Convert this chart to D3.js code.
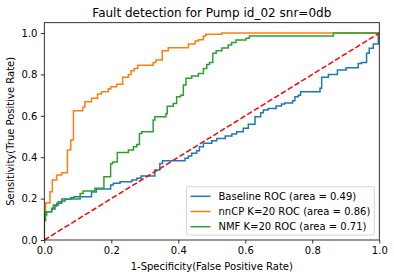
<!DOCTYPE html>
<html>
<head>
<meta charset="utf-8">
<script src="https://cdn.jsdelivr.net/npm/d3@7"></script>
<style>
  html, body { margin: 0; padding: 0; background: #fff; }
  svg { display: block; font-family: "DejaVu Sans", sans-serif; }
</style>
</head>
<body>
<svg id="chart"></svg>
<script>
// ROC curves: x where the step happens, tpr level after it
const baselineFpr = [0, 0, 0.007, 0.022, 0.032, 0.037, 0.052, 0.062, 0.079, 0.089, 0.141, 0.155, 0.198, 0.206, 0.226, 0.261, 0.276, 0.289, 0.33, 0.345, 0.353, 0.42, 0.43, 0.44, 0.455, 0.463, 0.475, 0.5, 0.515, 0.54, 0.56, 0.574, 0.594, 0.609, 0.629, 0.646, 0.654, 0.668, 0.692, 0.708, 0.718, 0.741, 0.748, 0.758, 0.765, 0.823, 0.828, 0.848, 0.875, 0.901, 0.937, 0.947, 0.962, 0.97, 0.982, 0.997, 1]
const baselineTpr = [0, 0.121, 0.137, 0.15, 0.164, 0.177, 0.188, 0.197, 0.204, 0.209, 0.232, 0.247, 0.266, 0.274, 0.282, 0.29, 0.298, 0.309, 0.338, 0.37, 0.383, 0.395, 0.406, 0.419, 0.431, 0.451, 0.467, 0.48, 0.491, 0.502, 0.512, 0.523, 0.54, 0.559, 0.596, 0.615, 0.628, 0.636, 0.647, 0.657, 0.662, 0.673, 0.692, 0.7, 0.716, 0.733, 0.786, 0.8, 0.821, 0.832, 0.853, 0.858, 0.902, 0.926, 0.947, 1, 1]

const nncpFpr = [0, 0, 0.004, 0.017, 0.024, 0.037, 0.052, 0.069, 0.079, 0.087, 0.115, 0.121, 0.141, 0.159, 0.171, 0.191, 0.199, 0.216, 0.234, 0.251, 0.259, 0.268, 0.279, 0.325, 0.333, 0.352, 0.37, 0.43, 0.45, 0.46, 0.475, 0.482, 0.53, 1]
const nncpTpr = [0, 0.137, 0.179, 0.233, 0.29, 0.314, 0.325, 0.435, 0.483, 0.625, 0.641, 0.668, 0.685, 0.705, 0.716, 0.731, 0.741, 0.752, 0.787, 0.8, 0.818, 0.829, 0.844, 0.858, 0.87, 0.914, 0.929, 0.947, 0.961, 0.968, 0.986, 0.994, 1, 1]

const nmfFpr = [0, 0, 0.004, 0.022, 0.027, 0.042, 0.052, 0.107, 0.116, 0.151, 0.178, 0.198, 0.204, 0.218, 0.251, 0.266, 0.276, 0.284, 0.291, 0.325, 0.33, 0.363, 0.367, 0.385, 0.395, 0.407, 0.415, 0.423, 0.44, 0.46, 0.475, 0.485, 0.493, 0.503, 0.513, 0.53, 0.549, 0.559, 0.572, 0.602, 0.612, 0.863, 1]
const nmfTpr = [0, 0.093, 0.137, 0.153, 0.169, 0.185, 0.198, 0.225, 0.237, 0.25, 0.306, 0.369, 0.377, 0.423, 0.435, 0.451, 0.462, 0.515, 0.523, 0.58, 0.596, 0.61, 0.646, 0.66, 0.692, 0.7, 0.749, 0.781, 0.793, 0.805, 0.829, 0.848, 0.858, 0.902, 0.915, 0.928, 0.942, 0.954, 0.966, 0.975, 0.986, 1, 1]

const seriesNames = ['Baseline ROC (area = 0.49)', 'nnCP K=20 ROC (area = 0.86)', 'NMF K=20 ROC (area = 0.71)']
const seriesColors = ['#1f77b4', '#ff7f0e', '#2ca02c']
const xTicks = [0, 0.2, 0.4, 0.6, 0.8, 1.0]
const yTicks = [0, 0.2, 0.4, 0.6, 0.8, 1.0]

const W = 394, H = 278
const MARGIN = { top: 22.7, right: 14.7, bottom: 38, left: 44.3 }
const innerWidth = W - MARGIN.left - MARGIN.right
const innerHeight = H - MARGIN.top - MARGIN.bottom

const svg = d3.select('#chart').attr('width', W).attr('height', H)

const g = svg.append('g')
    .attr('transform', `translate(${MARGIN.left},${MARGIN.top})`)

const x = d3.scaleLinear().domain([0, 1]).range([0, innerWidth])
const y = d3.scaleLinear().domain([0, 1.05]).range([innerHeight, 0])

g.append('defs').append('clipPath').attr('id', 'plot-clip')
    .append('rect')
    .attr('x', 0).attr('y', 0)
    .attr('width', innerWidth).attr('height', innerHeight)

// Axes
const xAxis = g.append('g')
    .attr('transform', `translate(0,${innerHeight})`)
    .call(d3.axisBottom(x).tickValues(xTicks).tickFormat(d3.format('.1f')).tickSizeOuter(0).tickSize(3.5).tickPadding(3.5))
const yAxis = g.append('g')
    .call(d3.axisLeft(y).tickValues(yTicks).tickFormat(d3.format('.1f')).tickSizeOuter(0).tickSize(3.5).tickPadding(3.5))

for (const ax of [xAxis, yAxis]) {
    ax.select('.domain').remove()
    ax.selectAll('line').attr('stroke', '#000').attr('stroke-width', 0.8)
    ax.selectAll('text').attr('fill', '#000').style('font-size', '10px')
        .style('font-family', '"DejaVu Sans", sans-serif')
}

// Curves
const lineGen = d3.line()
    .x(d => x(d[0]))
    .y(d => y(d[1]))
    .curve(d3.curveStepAfter)

const curves = [
    [baselineFpr, baselineTpr],
    [nncpFpr, nncpTpr],
    [nmfFpr, nmfTpr],
]

const plot = g.append('g').attr('clip-path', 'url(#plot-clip)')

curves.forEach(([fpr, tpr], i) => {
    plot.append('path')
        .datum(fpr.map((v, k) => [v, tpr[k]]))
        .attr('fill', 'none')
        .attr('stroke', seriesColors[i])
        .attr('stroke-width', 1.5)
        .attr('stroke-linejoin', 'miter')
        .attr('d', lineGen)
})

// Chance line
plot.append('path')
    .datum([[0, 0], [1, 1]])
    .attr('fill', 'none')
    .attr('stroke', 'red')
    .attr('stroke-width', 1.5)
    .attr('stroke-dasharray', '5.55,2.4')
    .attr('d', d3.line().x(d => x(d[0])).y(d => y(d[1])))

// Frame
g.append('rect')
    .attr('x', 0).attr('y', 0)
    .attr('width', innerWidth).attr('height', innerHeight)
    .attr('fill', 'none')
    .attr('stroke', '#000')
    .attr('stroke-width', 0.8)

// Titles
svg.append('text')
    .attr('x', MARGIN.left + innerWidth / 2).attr('y', 16.5)
    .attr('text-anchor', 'middle')
    .style('font-size', '12px')
    .text('Fault detection for Pump id_02 snr=0db')

svg.append('text')
    .attr('x', MARGIN.left + innerWidth / 2).attr('y', 269.5)
    .attr('text-anchor', 'middle')
    .style('font-size', '10px')
    .text('1-Specificity(False Positive Rate)')

svg.append('text')
    .attr('transform', `translate(13.5,${MARGIN.top + innerHeight / 2}) rotate(-90)`)
    .attr('text-anchor', 'middle')
    .style('font-size', '10px')
    .text('Sensitivity(True Positive Rate)')

// Legend (lower right)
const legend = g.append('g')
const box = legend.append('rect')
    .attr('fill', '#fff').attr('fill-opacity', 0.8)
    .attr('stroke', '#cccccc').attr('stroke-width', 0.8)
    .attr('rx', 2).attr('ry', 2)

const rowH = 15.2
const labels = seriesNames.map((name, i) => legend.append('text')
    .attr('y', i * rowH)
    .attr('dy', '0.35em')
    .style('font-size', '10px')
    .text(name))

const textW = d3.max(labels, t => t.node().getComputedTextLength())
const pad = 4, handleLen = 20, handlePad = 8
const boxW = pad + handleLen + handlePad + textW + pad
const boxH = 48.3
const boxX = innerWidth - 5 - boxW
const boxY = innerHeight - 5 - boxH

box.attr('x', boxX).attr('y', boxY).attr('width', boxW).attr('height', boxH)

const firstRow = boxY + 9.6
seriesNames.forEach((name, i) => {
    const cy = firstRow + i * rowH
    legend.append('line')
        .attr('x1', boxX + pad).attr('x2', boxX + pad + handleLen)
        .attr('y1', cy).attr('y2', cy)
        .attr('stroke', seriesColors[i]).attr('stroke-width', 1.5)
    labels[i].attr('x', boxX + pad + handleLen + handlePad).attr('y', cy)
})
</script>
</body>
</html>
